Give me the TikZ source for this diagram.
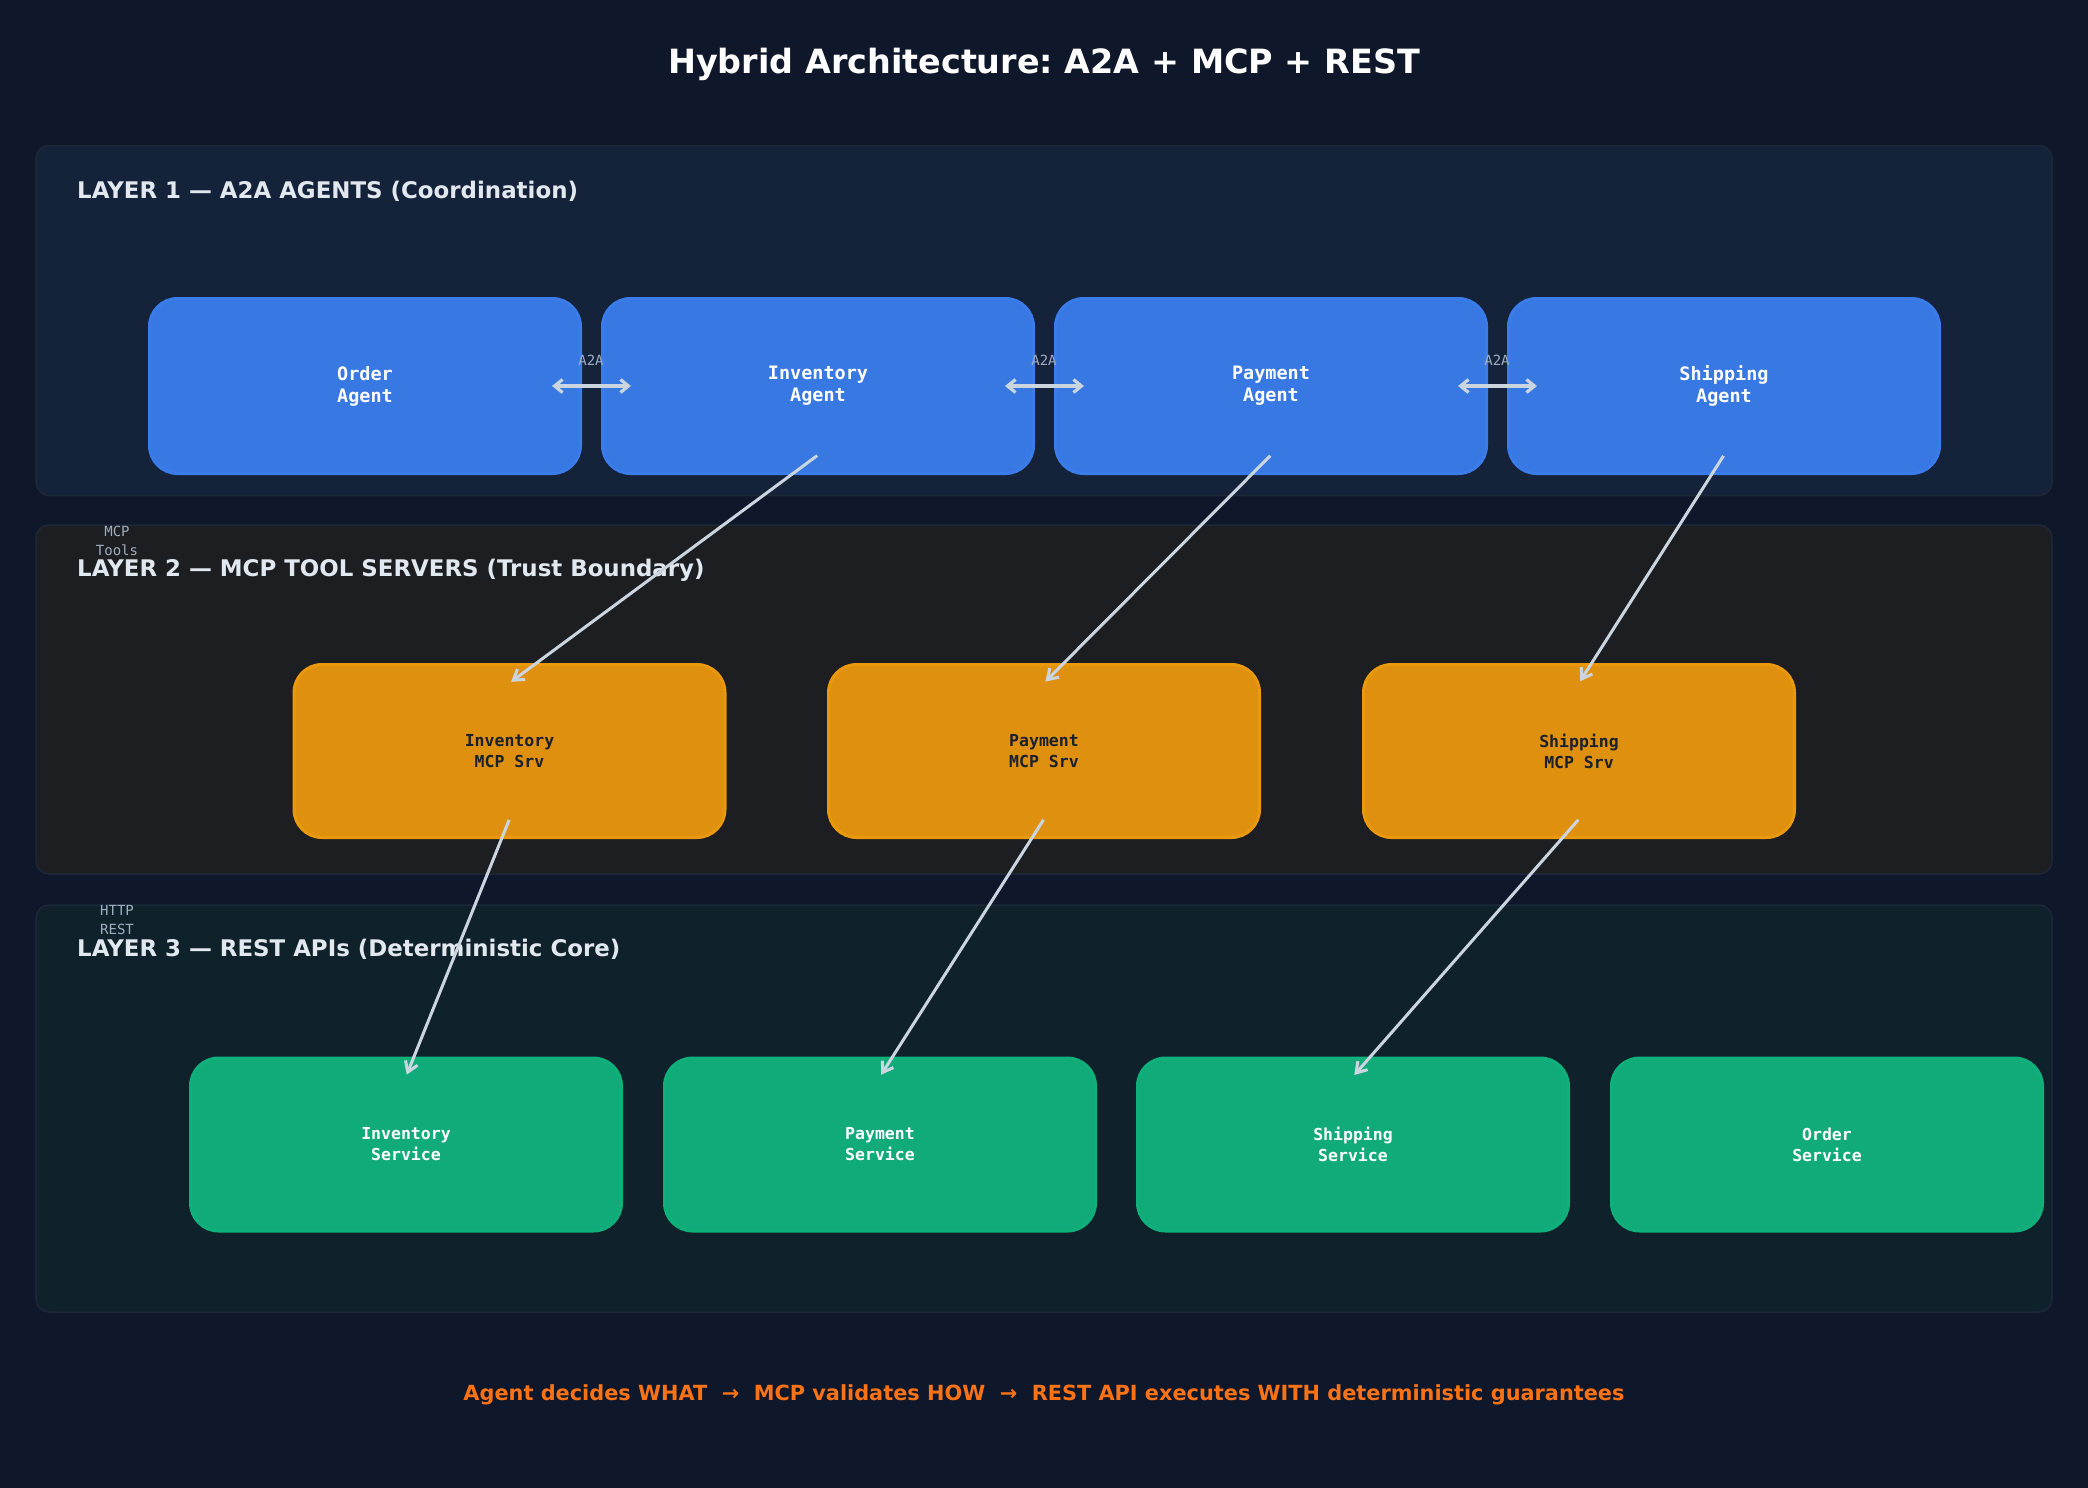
\documentclass[tikz,border=0pt]{standalone}
\usepackage{fontspec}
\setmainfont{DejaVu Sans}
\setmonofont{DejaVu Sans Mono}
\usetikzlibrary{arrows.meta}
\definecolor{bgcol}{HTML}{0F172A}
\definecolor{layerA}{HTML}{14233A}
\definecolor{layerB}{HTML}{1C1E22}
\definecolor{layerC}{HTML}{0F212B}
\definecolor{layerline}{HTML}{1C2838}
\definecolor{agentfill}{HTML}{3778E3}
\definecolor{agentline}{HTML}{3A7CEA}
\definecolor{mcpfill}{HTML}{DF900E}
\definecolor{mcpline}{HTML}{EA980C}
\definecolor{svcfill}{HTML}{10AB78}
\definecolor{svcline}{HTML}{10B07B}
\definecolor{headtext}{HTML}{E2E8F0}
\definecolor{smalltext}{HTML}{A0AEC0}
\definecolor{linkcol}{HTML}{CBD5E0}
\definecolor{footcol}{HTML}{F97316}
\definecolor{mcptext}{HTML}{1A202C}
\frenchspacing
\tikzset{
  layerbox/.style={draw=layerline, line width=1.5pt, rounded corners=13pt, minimum width=2016pt, inner sep=0pt},
  layerhead/.style={anchor=west, inner sep=0pt, text=headtext, font=\fontsize{22.9}{27}\selectfont\bfseries},
  compbox/.style={rounded corners=28pt, line width=3pt, minimum width=431pt, inner sep=0pt, align=center},
  agentbox/.style={compbox, fill=agentfill, draw=agentline, minimum height=175pt, text=white, font=\fontsize{18.5}{22}\selectfont\ttfamily\bfseries},
  mcpbox/.style={compbox, fill=mcpfill, draw=mcpline, minimum height=173pt, text=mcptext, font=\fontsize{16.5}{21}\selectfont\ttfamily\bfseries},
  svcbox/.style={compbox, fill=svcfill, draw=svcline, minimum height=173pt, text=white, font=\fontsize{16.5}{21}\selectfont\ttfamily\bfseries},
  smalllabel/.style={inner sep=0pt, align=center, text=smalltext, font=\fontsize{14}{18.3}\selectfont\ttfamily},
  flowline/.style={color=linkcol, line width=3pt, shorten <=1pt, shorten >=2pt, -{Straight Barb[length=10pt,width=13pt,line width=3pt]}},
  peerline/.style={color=linkcol, line width=3.2pt, {Straight Barb[length=8pt,width=13pt,line width=3.2pt]}-{Straight Barb[length=8pt,width=13pt,line width=3.2pt]}}
}
\begin{document}
\begin{tikzpicture}[x=1pt, y=-1pt]
  \fill[bgcol] (0,0) rectangle (2088,1488);
  \node (title) [inner sep=0pt, text=white, font=\fontsize{33.4}{40}\selectfont\bfseries] at (1044,64.5) {Hybrid Architecture: A2A + MCP + REST};

  % layers
  \node (layer1) [layerbox, fill=layerA, minimum height=350pt] at (1044,320.5) {};
  \node (layer2) [layerbox, fill=layerB, minimum height=349pt] at (1044,699.5) {};
  \node (layer3) [layerbox, fill=layerC, minimum height=407pt] at (1044,1108.5) {};
  \node (head1) [layerhead] at (77,191) {LAYER 1 — A2A AGENTS (Coordination)};
  \node (head2) [layerhead] at (77,570) {LAYER 2 — MCP TOOL SERVERS (Trust Boundary)};
  \node (head3) [layerhead] at (77,949) {LAYER 3 — REST APIs (Deterministic Core)};

  % agents
  \node (order)     [agentbox] at (365,386)  {Order\\Agent};
  \node (inventory) [agentbox] at (818,386)  {Inventory\\Agent};
  \node (payment)   [agentbox] at (1271,386) {Payment\\Agent};
  \node (shipping)  [agentbox] at (1724,386) {Shipping\\Agent};

  % mcp servers
  \node (invsrv)  [mcpbox] at (509.5,751) {Inventory\\MCP Srv};
  \node (paysrv)  [mcpbox] at (1044,751)  {Payment\\MCP Srv};
  \node (shipsrv) [mcpbox] at (1579,751)  {Shipping\\MCP Srv};

  % rest services
  \node (invapi)   [svcbox] at (406,1144.5)  {Inventory\\Service};
  \node (payapi)   [svcbox] at (880,1144.5)  {Payment\\Service};
  \node (shipapi)  [svcbox] at (1353,1144.5) {Shipping\\Service};
  \node (orderapi) [svcbox] at (1827,1144.5) {Order\\Service};

  \node (mcplabel)  [smalllabel] at (117,541) {MCP\\Tools};
  \node (httplabel) [smalllabel] at (117,920) {HTTP\\REST};
  \node (a2a1) [smalllabel] at (591,360)  {A2A};
  \node (a2a2) [smalllabel] at (1044,360) {A2A};
  \node (a2a3) [smalllabel] at (1497,360) {A2A};

  \node (footer) [inner sep=0pt, text=footcol, font=\fontsize{20.85}{25}\selectfont\bfseries] at (1044,1394.5) {Agent decides WHAT~~→~~MCP validates HOW~~→~~REST API executes WITH deterministic guarantees};

  \path[peerline]
  ([xshift=-30pt]order.east) edge ([xshift=30pt]inventory.west)
  ([xshift=-30pt]inventory.east) edge ([xshift=30pt]payment.west)
  ([xshift=-30pt]payment.east) edge ([xshift=30pt]shipping.west)
  ;
  \path[flowline]
  ([yshift=20pt]inventory.south) edge ([yshift=-20pt]invsrv.north)
  ([yshift=20pt]payment.south) edge ([yshift=-20pt]paysrv.north)
  ([yshift=20pt]shipping.south) edge ([yshift=-20pt]shipsrv.north)
  ([yshift=20pt]invsrv.south) edge ([yshift=-20pt]invapi.north)
  ([yshift=20pt]paysrv.south) edge ([yshift=-20pt]payapi.north)
  ([yshift=20pt]shipsrv.south) edge ([yshift=-20pt]shipapi.north)
  ;
\end{tikzpicture}
\end{document}
